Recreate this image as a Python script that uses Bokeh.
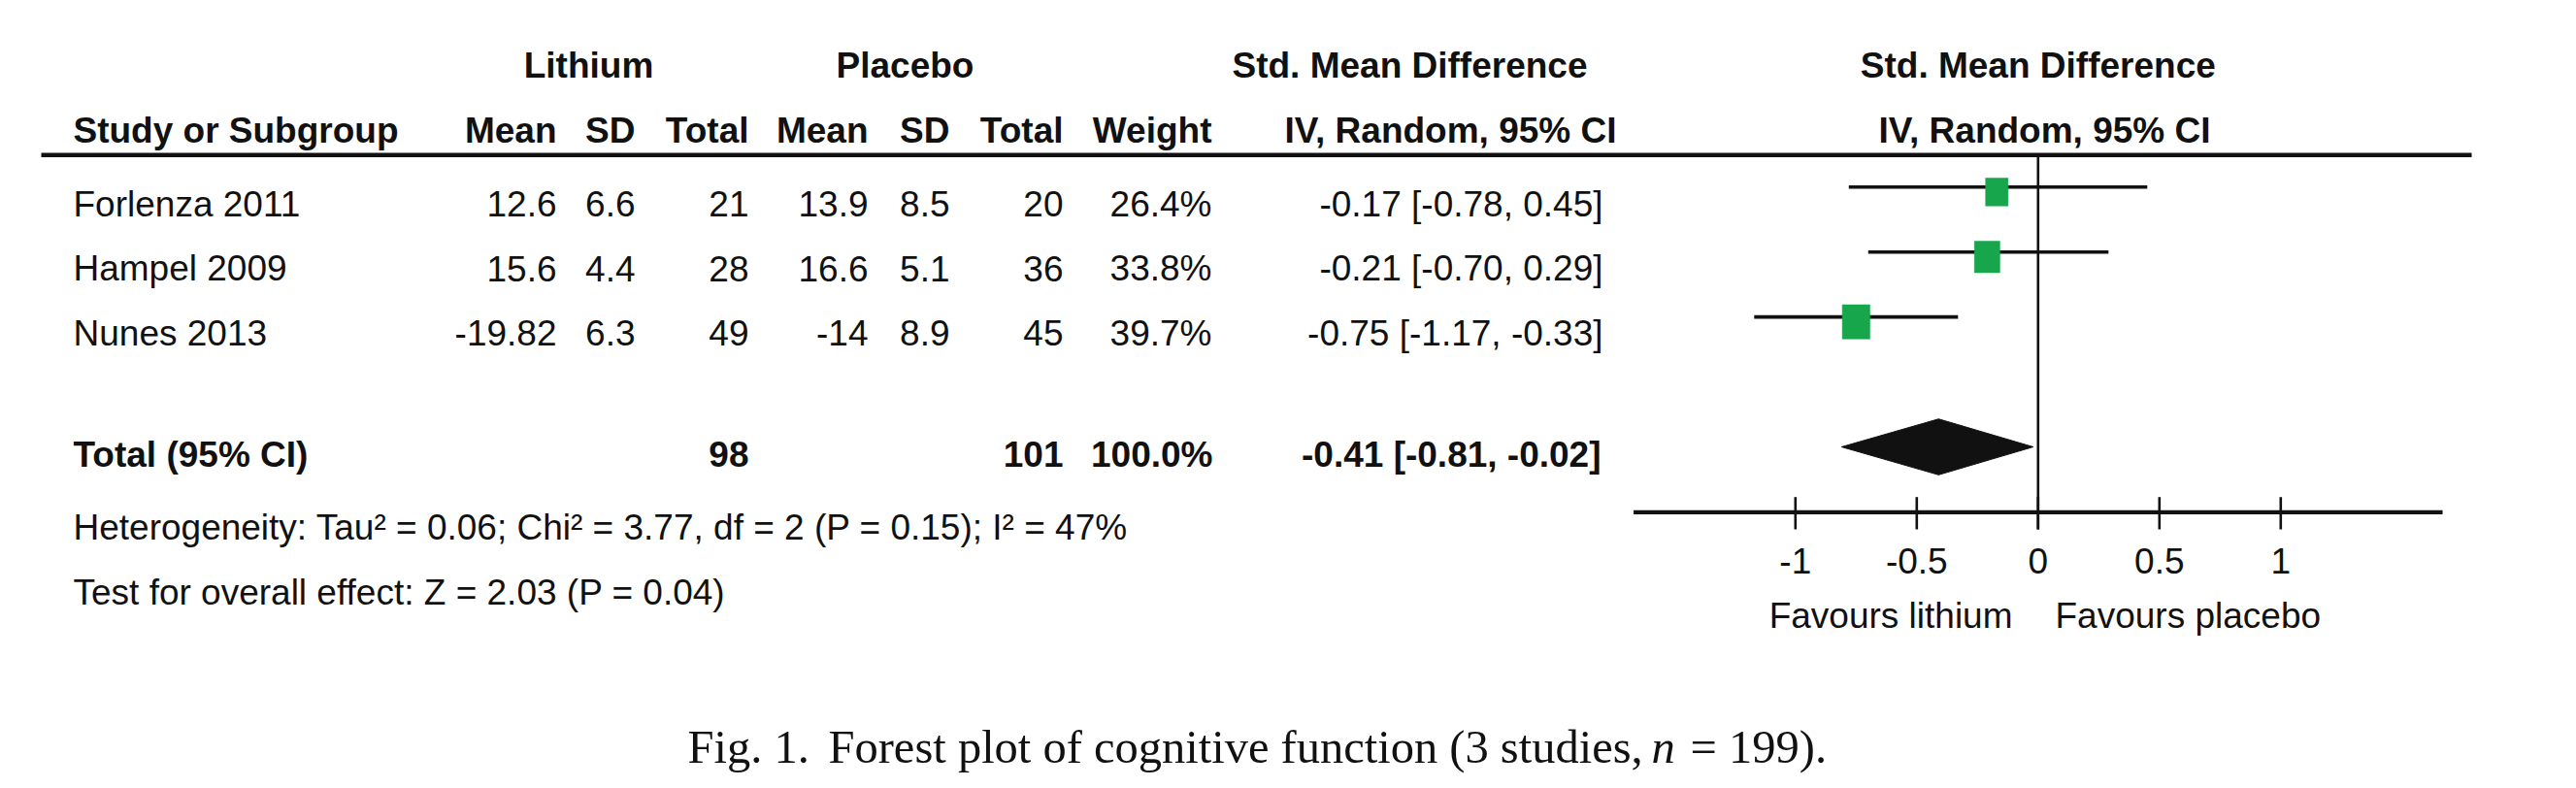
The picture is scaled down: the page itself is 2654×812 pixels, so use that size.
from bokeh.plotting import figure
from bokeh.models import Range1d, ColumnDataSource
from bokeh.core.properties import value
from bokeh.embed import file_html
from bokeh.resources import INLINE

# ---------------- data ----------------
studies = ["Forlenza 2011", "Hampel 2009", "Nunes 2013"]
lith_mean = [12.6, 15.6, -19.82]
lith_sd = [6.6, 4.4, 6.3]
lith_n = [21, 28, 49]
plac_mean = [13.9, 16.6, -14]
plac_sd = [8.5, 5.1, 8.9]
plac_n = [20, 36, 45]
weight = [26.4, 33.8, 39.7]
smd = [-0.17, -0.21, -0.75]
ci_lo = [-0.78, -0.70, -1.17]
ci_hi = [0.45, 0.29, -0.33]

total_label = "Total (95% CI)"
total_lith_n = 98
total_plac_n = 101
total_weight = 100.0
pooled = -0.41
pooled_lo = -0.81
pooled_hi = -0.02

heterogeneity = "Heterogeneity: Tau² = 0.06; Chi² = 3.77, df = 2 (P = 0.15); I² = 47%"
overall = "Test for overall effect: Z = 2.03 (P = 0.04)"

group_headers = ["Lithium", "Placebo", "Std. Mean Difference", "Std. Mean Difference"]
col_headers = ["Mean", "SD", "Total", "Mean", "SD", "Total", "Weight"]
ci_header = "IV, Random, 95% CI"
first_header = "Study or Subgroup"

tick_values = [-1, -0.5, 0, 0.5, 1]
tick_labels = ["-1", "-0.5", "0", "0.5", "1"]
favours = ["Favours lithium", "Favours placebo"]

caption_parts = ["Fig. 1.", "Forest plot of cognitive function (3 studies,", "n", "= 199)."]

# ---------------- layout / style ----------------
W, H = 2650, 808
ZERO_PX = 2099.3
PX_PER_UNIT = 250.0
AXIS_SPAN = (-1.667, 1.667)
SANS = value("Liberation Sans")
SERIF = value("Liberation Serif")
FS = "37px"
INK = "#111111"
GREEN = "#17a64b"
TXT_DY = 13.0      # baseline correction for sans text
CAP_DY = 14.0      # baseline correction for caption text

p = figure(width=W, height=H, x_range=Range1d(0, W), y_range=Range1d(H, 0),
           min_border=0, output_backend="svg", toolbar_location=None,
           x_axis_location=None, y_axis_location=None)
p.grid.visible = False
p.outline_line_color = None
p.background_fill_color = "white"
p.border_fill_color = "white"
p.extra_x_ranges = {"smd": Range1d((0 - ZERO_PX) / PX_PER_UNIT, (W - ZERO_PX) / PX_PER_UNIT)}


def txt(xs, ys, texts, align="left", bold=False, size=FS, font=SANS, italic=False, rn="default", dy=TXT_DY):
    style = "bold" if bold else ("italic" if italic else "normal")
    p.text(x=xs, y=[y - dy for y in ys], text=texts, text_align=align, text_baseline="alphabetic",
           text_font=font, text_font_size=size, text_font_style=style,
           text_color=INK, x_range_name=rn)


def fmt(v):
    return f"{v:g}"


# ---------- headers ----------
txt([606, 932, 1452, ZERO_PX], [80] * 4, group_headers, align="center", bold=True)
txt([75], [146.7], [first_header], bold=True)
col_right = [573, 654, 771, 894, 978, 1095, 1248]
txt(col_right, [146.7] * len(col_right), col_headers, align="right", bold=True)
txt([1665], [146.7], [ci_header], align="right", bold=True)
txt([2106], [146.7], [ci_header], align="center", bold=True)

# header rule
p.segment(x0=[42], x1=[2546], y0=[159.3], y1=[159.3], line_width=4.6, line_color=INK)

# ---------- study rows ----------
n = len(studies)
text_y = [222.7 + i * 66.5 for i in range(n)]
txt([75] * n, text_y, studies)
columns = [
    [fmt(v) for v in lith_mean],
    [fmt(v) for v in lith_sd],
    [str(v) for v in lith_n],
    [fmt(v) for v in plac_mean],
    [fmt(v) for v in plac_sd],
    [str(v) for v in plac_n],
    [f"{v:.1f}%" for v in weight],
]
for cx, col in zip(col_right, columns):
    txt([cx] * n, text_y, col, align="right")
ci_text = [f"{m:.2f} [{lo:.2f}, {hi:.2f}]" for m, lo, hi in zip(smd, ci_lo, ci_hi)]
txt([1651] * n, text_y, ci_text, align="right")

# ---------- total row ----------
ty = 480.7
txt([75], [ty], [total_label], bold=True)
txt([771], [ty], [str(total_lith_n)], align="right", bold=True)
txt([1095], [ty], [str(total_plac_n)], align="right", bold=True)
txt([1249], [ty], [f"{total_weight:.1f}%"], align="right", bold=True)
txt([1649], [ty], [f"{pooled:.2f} [{pooled_lo:.2f}, {pooled_hi:.2f}]"], align="right", bold=True)

txt([75], [555.7], [heterogeneity])
txt([75], [623.3], [overall])

# ---------- forest panel ----------
row0, step = 192.3, 66.93
line_y = [row0 + i * step for i in range(n)]
sq_y = [y + 5.0 for y in line_y]
sq_w = [4.5 * w ** 0.5 for w in weight]
sq_h = [5.6 * w ** 0.5 for w in weight]
src = ColumnDataSource(dict(smd=smd, lo=ci_lo, hi=ci_hi, ly=line_y, sy=sq_y, w=sq_w, h=sq_h))

axis_y = 527.3
# zero line
p.segment(x0=[0], x1=[0], y0=[159.3], y1=[545], line_width=2.6, line_color=INK, x_range_name="smd")
# CI lines
p.segment(x0="lo", x1="hi", y0="ly", y1="ly", source=src, line_width=3.6, line_color=INK,
          x_range_name="smd")
# squares
p.rect(x="smd", y="sy", width="w", height="h", width_units="screen", height_units="screen",
       source=src, fill_color=GREEN, line_color=GREEN, line_width=1, line_alpha=0.5,
       x_range_name="smd")
# pooled diamond
dy = row0 + 4 * step
half_h = 28.8
p.patch(x=[pooled_lo, pooled, pooled_hi, pooled], y=[dy, dy - half_h, dy, dy + half_h],
        fill_color=INK, line_color=INK, line_width=1, x_range_name="smd")

# axis
p.segment(x0=[AXIS_SPAN[0]], x1=[AXIS_SPAN[1]], y0=[axis_y], y1=[axis_y], line_width=4.3,
          line_color=INK, x_range_name="smd")
p.segment(x0=tick_values, x1=tick_values, y0=[511.7] * len(tick_values), y1=[545] * len(tick_values),
          line_width=2.6, line_color=INK, x_range_name="smd")
txt(tick_values, [590.7] * len(tick_values), tick_labels, align="center", rn="smd")
txt([2073], [647], [favours[0]], align="right")
txt([2117], [647], [favours[1]], align="left")

# ---------- caption ----------
CFS = "48.5px"
txt([708], [782.5], [caption_parts[0]], font=SERIF, size=CFS, dy=CAP_DY)
txt([853], [782.5], [caption_parts[1]], font=SERIF, size=CFS, dy=CAP_DY)
txt([1701], [782.5], [caption_parts[2]], font=SERIF, size=CFS, italic=True, dy=CAP_DY)
txt([1741], [782.5], [caption_parts[3]], font=SERIF, size=CFS, dy=CAP_DY)

open("out.html", "w").write(file_html(p, INLINE))
